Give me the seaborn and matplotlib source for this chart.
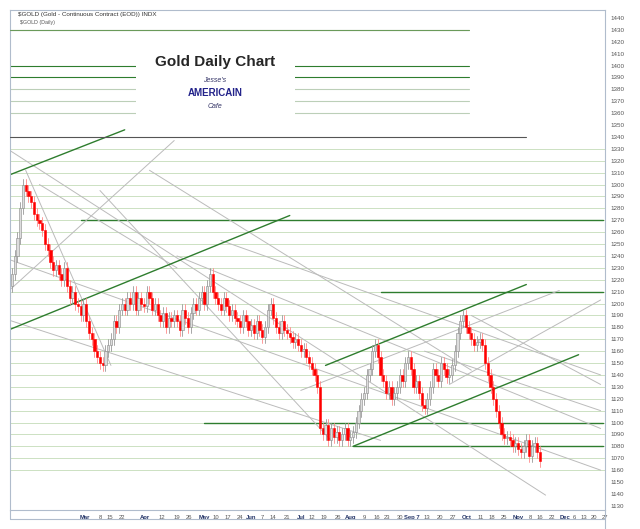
import numpy as np
import matplotlib
matplotlib.use("Agg")
import matplotlib.pyplot as plt
import seaborn as sns

sns.set_theme(style="white")
plt.rcParams['font.family'] = ['Liberation Sans', 'DejaVu Sans']

# daily closes, one per trading session
closes = [1225,1240,1255,1280,1300,1295,1290,1285,1275,1270,
          1268,1262,1250,1245,1235,1228,1232,1225,1220,1230,
          1215,1205,1210,1200,1198,1190,1200,1185,1175,1170,
          1160,1155,1150,1148,1160,1165,1170,1185,1180,1195,
          1200,1195,1205,1200,1210,1195,1205,1200,1198,1210,
          1205,1195,1200,1190,1185,1192,1180,1188,1185,1190,
          1185,1178,1195,1188,1180,1192,1200,1195,1205,1210,
          1200,1215,1225,1210,1205,1200,1195,1205,1198,1190,
          1195,1188,1185,1180,1190,1185,1178,1182,1175,1185,
          1178,1172,1180,1195,1200,1188,1180,1175,1185,1178,
          1175,1172,1168,1170,1165,1160,1162,1155,1150,1145,
          1140,1130,1095,1090,1098,1085,1095,1088,1092,1085,
          1090,1095,1085,1088,1092,1100,1110,1120,1125,1140,
          1145,1160,1165,1155,1140,1135,1125,1130,1120,1125,
          1130,1140,1135,1150,1155,1145,1130,1135,1125,1115,
          1112,1120,1130,1145,1140,1135,1150,1145,1138,1140,
          1148,1160,1175,1185,1190,1180,1175,1170,1165,1168,
          1170,1165,1150,1140,1130,1120,1110,1100,1090,1087,
          1088,1085,1080,1083,1078,1075,1080,1085,1072,1080,
          1083,1075,1068]
first_open = 1215

date_labels = ["Mar","8","15","22","Apr","12","19","26","May","10","17","24",
               "Jun","7","14","21","Jul","12","19","26","Aug","9","16","23","30",
               "Sep 7","13","20","27","Oct","11","18","25","Nov","8","16","22",
               "Dec","6","13","20","27"]
date_pos = [26.5,32,35.5,40,48.5,54.5,60,64.5,70,74,78.5,83,
            87,91,95,100,105,109,113.5,118.5,123,128,132.5,136.5,141,
            145.5,151,155.5,160.5,165.5,170.5,174.5,179,184,188.5,192,196.5,
            201,204.5,208,211.5,215.5]

y_ticks = list(range(1440, 1029, -10))
y_tick_text = [str(v) for v in y_ticks[:-4]] + ["1160", "1150", "1140", "1130"]

# trend lines: (i0, p0, i1, p1)
green_lines = [(-1,1308,41,1346), (-1,1178,101,1274),
               (114,1148,187,1216), (124,1080,206,1157)]
grey_lines = [(-1,1329,194,1039), (-1,1237,214,1060), (-1,1186,134,1085),
              (76,1253,214,1140), (167,1190,214,1132), (5,1312,36,1148),
              (-1,1211,59,1337), (105,1127,199,1211), (159,1132,214,1203),
              (32,1295,116,1085), (50,1312,167,1144), (10,1300,60,1230),
              (60,1240,214,1095), (150,1160,214,1110)]
dark_levels = [(1270,25,215), (1210,134,215), (1100,70,215), (1080,124,215)]
header_levels = [1430, 1400, 1390, 1380, 1370, 1360]

fig = plt.figure(figsize=(6.4, 5.29), dpi=100)
ax = fig.add_axes([10/640, 19/529, 595/640, 500/529])
ax.set_xlim(-0.7, 215.6)
ax.set_ylim(1026.5, 1446.7)

# horizontal grid levels
for lv in range(1060, 1340, 10):
    ax.plot([-0.7, 215.6], [lv, lv], color="#c4dcb8", lw=0.6, zorder=1)
for lv in header_levels:
    ax.plot([-0.7, 166], [lv, lv], color="#2e7d2e" if lv in (1400, 1390) else "#bccfb8",
            lw=0.8, zorder=1)
for lv, a, b in dark_levels:
    ax.plot([a, b], [lv, lv], color="#2e7d2e", lw=1.0, zorder=2)
for i0, p0, i1, p1 in grey_lines:
    ax.plot([i0, i1], [p0, p1], color="#bbbbbb", lw=0.7, zorder=2)
for i0, p0, i1, p1 in green_lines:
    ax.plot([i0, i1], [p0, p1], color="#2e7d2e", lw=1.0, zorder=2)

# candles
opens = [first_open] + closes[:-1]
for i, (o, c) in enumerate(zip(opens, closes)):
    hi, lo = max(o, c) + 5, min(o, c) - 5
    up = c >= o
    ax.plot([i, i], [lo, hi], color="#999999" if up else "#ff8a8a", lw=0.6, zorder=3)
    ax.add_patch(plt.Rectangle((i - 0.4, min(o, c)), 0.8, max(abs(c - o), 1),
                               facecolor="#dddddd" if up else "#ff0000",
                               edgecolor="#888888" if up else "#ff0000", lw=0.4, zorder=4))

# header box
ax.add_patch(plt.Rectangle((45, 1345), 58, 78, facecolor="white", edgecolor="none", zorder=5))
ax.plot([-0.7, 166], [1430, 1430], color="#6a9a5a", lw=0.8, zorder=6)
ax.plot([-0.7, 187], [1340, 1340], color="#555555", lw=0.8, zorder=6)
fig.text(215/640, 1 - 62/529, "Gold Daily Chart", ha="center", va="center",
         fontsize=11, fontweight="bold")
fig.text(215/640, 1 - 82/529, "Jesse's", ha="center", fontsize=5, color="#333366", style="italic")
fig.text(215/640, 1 - 96/529, "AMERICAIN", ha="center", fontsize=7, color="#22228a", fontweight="bold")
fig.text(215/640, 1 - 108/529, "Cafe", ha="center", fontsize=5, color="#333366", style="italic")
fig.text(18/640, 1 - 16/529, "$GOLD (Gold - Continuous Contract (EOD)) INDX", fontsize=4.5, color="#333333")
fig.text(20/640, 1 - 24/529, "$GOLD (Daily)", fontsize=3.8, color="#555555")

ax.set_xticks([])
ax.yaxis.tick_right()
ax.set_yticks(y_ticks)
ax.set_yticklabels(y_tick_text, fontsize=4.5, color="#555555")
ax.tick_params(axis="y", length=0, pad=4)
for s in ax.spines.values():
    s.set_color("#b0bccc")
    s.set_linewidth(0.8)

for lab, pos in zip(date_labels, date_pos):
    bold = not lab.isdigit()
    ax.text(pos, 1026.5 - 6, lab, ha="center", va="center", fontsize=4.2,
            fontweight="bold" if bold else "normal",
            color="#223366" if bold else "#555555", clip_on=False)

fig.add_artist(plt.Line2D([10/640, 10/640], [10/529, 19/529], color="#b0bccc", lw=0.8))
fig.add_artist(plt.Line2D([10/640, 605/640], [10/529, 10/529], color="#b0bccc", lw=0.8))
fig.add_artist(plt.Line2D([605/640, 605/640], [0, 19/529], color="#b0bccc", lw=0.8))

fig.savefig("out.png", dpi=100)
